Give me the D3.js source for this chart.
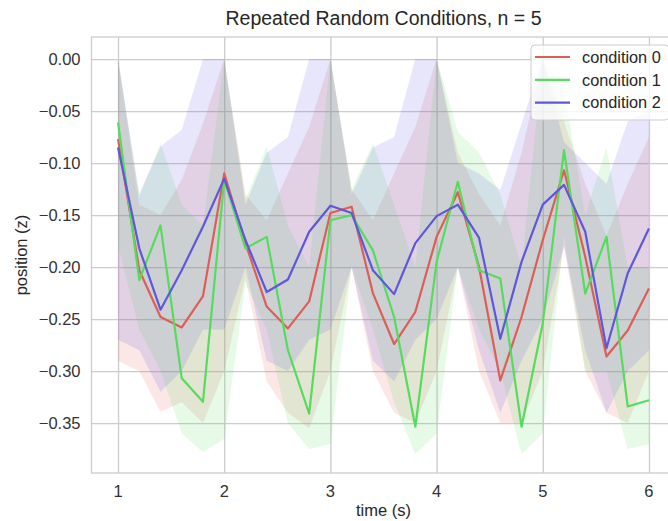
<!DOCTYPE html>
<html>
<head>
<meta charset="utf-8">
<script src="https://cdn.jsdelivr.net/npm/d3@7/dist/d3.min.js"></script>
<style>
  html, body { margin: 0; padding: 0; background: #fff; }
  svg { display: block; }
  text { font-family: "Liberation Sans", Arial, sans-serif; }
</style>
</head>
<body>
<svg id="chart" width="668" height="521"></svg>
<script>
// Sample times (s)
const times = [1.0, 1.2, 1.4, 1.6, 1.8, 2.0, 2.2, 2.4, 2.6, 2.8, 3.0, 3.2, 3.4, 3.6, 3.8,
               4.0, 4.2, 4.4, 4.6, 4.8, 5.0, 5.2, 5.4, 5.6, 5.8, 6.0];

const conditions = ["condition 0", "condition 1", "condition 2"];

// Mean position per condition
const mean0 = [-0.077, -0.203, -0.248, -0.258, -0.228, -0.110, -0.177, -0.238, -0.259, -0.233,
               -0.148, -0.142, -0.225, -0.274, -0.243, -0.171, -0.128, -0.200, -0.309, -0.248,
               -0.174, -0.107, -0.190, -0.286, -0.261, -0.2205];
const mean1 = [-0.061, -0.2125, -0.160, -0.307, -0.3295, -0.116, -0.182, -0.171, -0.280, -0.341,
               -0.155, -0.150, -0.184, -0.248, -0.3535, -0.195, -0.118, -0.203, -0.211, -0.3535,
               -0.254, -0.0875, -0.2255, -0.171, -0.334, -0.328];
const mean2 = [-0.085, -0.182, -0.241, -0.203, -0.161, -0.115, -0.174, -0.224, -0.212, -0.166,
               -0.141, -0.148, -0.203, -0.226, -0.177, -0.151, -0.140, -0.172, -0.269, -0.195,
               -0.140, -0.121, -0.166, -0.278, -0.206, -0.163];

// Confidence interval bounds per condition
const upper0 = [0, -0.14, -0.15, -0.116, -0.062, 0, -0.13, -0.155, -0.11, -0.065,
                0, -0.125, -0.155, -0.11, -0.065, 0, -0.09, -0.13, -0.16, -0.09,
                0, -0.06, -0.12, -0.17, -0.12, -0.075];
const lower0 = [-0.29, -0.30, -0.339, -0.33, -0.35, -0.30, -0.21, -0.31, -0.34, -0.355,
                -0.30, -0.20, -0.30, -0.34, -0.35, -0.30, -0.20, -0.30, -0.35, -0.35,
                -0.30, -0.18, -0.30, -0.34, -0.35, -0.30];
const upper1 = [0, -0.132, -0.081, -0.14, -0.16, 0, -0.135, -0.084, -0.16, -0.20,
                0, -0.125, -0.081, -0.14, -0.20, 0, -0.07, -0.09, -0.13, -0.20,
                0, -0.03, -0.15, -0.085, -0.20, -0.20];
const lower1 = [-0.18, -0.26, -0.30, -0.36, -0.378, -0.365, -0.215, -0.26, -0.35, -0.375,
                -0.37, -0.20, -0.26, -0.33, -0.38, -0.36, -0.20, -0.26, -0.30, -0.38,
                -0.36, -0.17, -0.30, -0.30, -0.375, -0.37];
const upper2 = [0, -0.13, -0.084, -0.068, 0, 0, -0.14, -0.09, -0.075, 0,
                0, -0.13, -0.085, -0.075, 0, 0, -0.10, -0.11, -0.126, -0.062,
                0, -0.08, -0.10, -0.12, -0.06, -0.05];
const lower2 = [-0.27, -0.28, -0.32, -0.30, -0.26, -0.26, -0.20, -0.29, -0.30, -0.27,
                -0.26, -0.20, -0.29, -0.31, -0.27, -0.25, -0.20, -0.28, -0.34, -0.29,
                -0.25, -0.18, -0.28, -0.34, -0.30, -0.28];

const xTicks = [1, 2, 3, 4, 5, 6];
const yTicks = [0.00, -0.05, -0.10, -0.15, -0.20, -0.25, -0.30, -0.35];

const colors = ["#db5f57", "#57db5f", "#5f57db"];

const series = [
  { name: conditions[0], mean: mean0, lo: lower0, hi: upper0, color: colors[0] },
  { name: conditions[1], mean: mean1, lo: lower1, hi: upper1, color: colors[1] },
  { name: conditions[2], mean: mean2, lo: lower2, hi: upper2, color: colors[2] }
];

const plot = { left: 91.5, right: 675.5, top: 37, bottom: 473 };

const svg = d3.select("#chart");

const x = d3.scaleLinear().domain([0.75, 6.25]).range([plot.left, plot.right]);
const y = d3.scaleLinear().domain([-0.398, 0.0212]).range([plot.bottom, plot.top]);

svg.append("defs").append("clipPath").attr("id", "plot-clip")
  .append("rect")
  .attr("x", plot.left).attr("y", plot.top)
  .attr("width", plot.right - plot.left).attr("height", plot.bottom - plot.top);

// Grid lines
const gridColor = "#cccccc";
const gx = d3.axisBottom(x).tickValues(xTicks)
  .tickSize(-(plot.bottom - plot.top)).tickFormat("");
svg.append("g").attr("transform", `translate(0,${plot.bottom})`).call(gx)
  .call(g => g.select(".domain").remove())
  .call(g => g.selectAll("line").attr("stroke", gridColor).attr("stroke-width", 1.3));

const gy = d3.axisLeft(y).tickValues(yTicks)
  .tickSize(-(plot.right - plot.left)).tickFormat("");
svg.append("g").attr("transform", `translate(${plot.left},0)`).call(gy)
  .call(g => g.select(".domain").remove())
  .call(g => g.selectAll("line").attr("stroke", gridColor).attr("stroke-width", 1.3));

// Frame
svg.append("rect")
  .attr("x", plot.left).attr("y", plot.top)
  .attr("width", plot.right - plot.left).attr("height", plot.bottom - plot.top)
  .attr("fill", "none").attr("stroke", gridColor).attr("stroke-width", 1.3);

const body = svg.append("g").attr("clip-path", "url(#plot-clip)");

// Confidence bands
const area = d3.area()
  .x((d, i) => x(times[i]))
  .y0(d => y(d[0]))
  .y1(d => y(d[1]));

series.forEach(s => {
  const pts = times.map((t, i) => [s.lo[i], s.hi[i]]);
  body.append("path")
    .datum(pts)
    .attr("d", area)
    .attr("fill", s.color)
    .attr("fill-opacity", 0.15)
    .attr("stroke", "none");
});

// Mean lines
const line = d3.line()
  .x((d, i) => x(times[i]))
  .y(d => y(d));

series.forEach(s => {
  body.append("path")
    .datum(s.mean)
    .attr("d", line)
    .attr("fill", "none")
    .attr("stroke", s.color)
    .attr("stroke-width", 2.2)
    .attr("stroke-linejoin", "round");
});

// Tick labels
const tickColor = "#333333";
const fmt = d3.format(".2f");
svg.append("g").selectAll("text").data(yTicks).join("text")
  .attr("x", plot.left - 11)
  .attr("y", d => y(d))
  .attr("dy", "0.35em")
  .attr("text-anchor", "end")
  .attr("font-size", 16.5)
  .attr("fill", tickColor)
  .text(d => fmt(d).replace("-", "\u2212"));

svg.append("g").selectAll("text").data(xTicks).join("text")
  .attr("x", d => x(d))
  .attr("y", plot.bottom + 24)
  .attr("text-anchor", "middle")
  .attr("font-size", 16.5)
  .attr("fill", tickColor)
  .text(d => d);

// Axis labels
svg.append("text")
  .attr("x", (plot.left + plot.right) / 2)
  .attr("y", 516)
  .attr("text-anchor", "middle")
  .attr("font-size", 16.5)
  .attr("fill", "#262626")
  .text("time (s)");

svg.append("text")
  .attr("transform", `translate(27,${(plot.top + plot.bottom) / 2}) rotate(-90)`)
  .attr("text-anchor", "middle")
  .attr("font-size", 16.5)
  .attr("fill", "#262626")
  .text("position (z)");

// Title
svg.append("text")
  .attr("x", (plot.left + plot.right) / 2)
  .attr("y", 25)
  .attr("text-anchor", "middle")
  .attr("font-size", 19.5)
  .attr("fill", "#262626")
  .text("Repeated Random Conditions, n = 5");

// Legend
const legend = svg.append("g");
legend.append("rect")
  .attr("x", 531).attr("y", 45)
  .attr("width", 138).attr("height", 75)
  .attr("rx", 4)
  .attr("fill", "#ffffff").attr("fill-opacity", 0.8)
  .attr("stroke", gridColor).attr("stroke-width", 1);

const items = legend.selectAll("g.item").data(series).join("g")
  .attr("class", "item")
  .attr("transform", (d, i) => `translate(0,${57 + i * 22.8})`);
items.append("line")
  .attr("x1", 535).attr("x2", 570)
  .attr("stroke", d => d.color).attr("stroke-width", 2.2);
items.append("text")
  .attr("x", 582).attr("dy", "0.35em")
  .attr("font-size", 16.3)
  .attr("fill", "#262626")
  .text(d => d.name);
</script>
</body>
</html>
